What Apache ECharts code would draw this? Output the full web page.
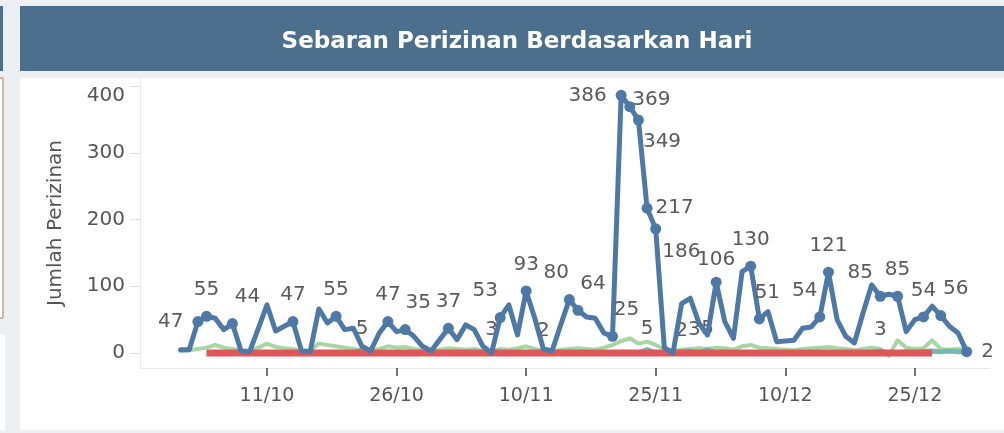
<!DOCTYPE html>
<html><head><meta charset="utf-8">
<script src="https://cdn.jsdelivr.net/npm/echarts@6/dist/echarts.min.js"></script>
<style>html,body{margin:0;padding:0;background:#edf0f3;overflow:hidden}#c{width:1004px;height:433px}</style>
</head><body><div id="c"></div>
<script>
// Daily series, 1 Oct 2022 .. 31 Dec 2022 (index = days since 1 Oct)
const tickLabels = ['11/10', '26/10', '10/11', '25/11', '10/12', '25/12'];
const tickDays = [10, 25, 40, 55, 70, 85];
const yTicks = [0, 100, 200, 300, 400];

const blueValues = [
  5, 5, 47, 55, 52, 35, 44, 3, 2, 37,
  72, 33, 40, 47, 3, 2, 66, 45, 55, 35,
  37, 10, 3, 30, 47, 32, 35, 25, 10, 3,
  20, 37, 20, 42, 35, 10, 0, 53, 72, 27,
  93, 52, 6, 3, 42, 80, 64, 54, 52, 30,
  25, 386, 369, 349, 217, 186, 8, 0, 74, 82,
  45, 27, 106, 47, 22, 122, 130, 51, 62, 17,
  18, 19, 37, 39, 54, 121, 50, 25, 15, 60,
  102, 85, 88, 85, 32, 50, 54, 70, 56, 40,
  30, 2
];
const blueLabeled = [2, 3, 6, 13, 18, 24, 26, 31, 37, 40, 45, 46, 50, 51, 52, 53, 54, 55, 62, 66, 67, 74, 75, 81, 83, 86, 88, 91];

const greenValues = [
  3, 4, 6, 8, 12, 8, 6, 4, 3, 8,
  14, 9, 7, 6, 3, 4, 14, 12, 10, 8,
  6, 4, 3, 6, 10, 8, 9, 6, 4, 3,
  5, 7, 6, 5, 6, 3, 2, 6, 5, 7,
  10, 6, 3, 2, 5, 6, 7, 6, 5, 8,
  12, 18, 22, 14, 17, 12, 6, 3, 5, 6,
  7, 6, 8, 7, 5, 10, 12, 8, 7, 6,
  5, 4, 6, 7, 8, 9, 7, 6, 4, 6,
  8, 6, -4, 19, 8, 6, 7, 19, 6, 5,
  6, 5
];

const redValues = [
  null, null, null, 0, 0, 0, 0, 0, 0, 0,
  0, 0, 0, 0, 0, 0, 0, 0, 0, 0,
  0, 0, 0, 0, 0, 0, 0, 0, 0, 0,
  0, 0, 0, 0, 0, 0, 0, 0, 0, 0,
  0, 0, 0, 0, 0, 0, 0, 0, 0, 0,
  0, 0, 0, 0, 0, 0, 0, 0, 0, 0,
  0, 0, 0, 0, 0, 0, 0, 0, 0, 0,
  0, 0, 0, 0, 0, 0, 0, 0, 0, 0,
  0, 0, 0, 0, 0, 0, 0, 0, null, null,
  null, null
];

const tealValues = [
  null, null, null, 0, 0, 0, 0, 0, 0, 0,
  0, 0, 0, 0, 0, 0, 0, 0, 0, 0,
  0, 5, 0, 0, 0, 0, 0, 0, 0, 0,
  0, 0, 0, 0, 0, 0, 3, 0, 0, 0,
  0, 0, 2, 0, 0, 0, 0, 0, 0, 0,
  0, 0, 0, 0, 5, 0, 0, 0, 2, 3,
  0, 5, 0, 0, 0, 0, 0, 0, 0, 0,
  0, 0, 0, 0, 0, 0, 0, 0, 0, 0,
  0, 3, 0, 0, 2, 1, 2, 3, 2, 3,
  2, 2
];
const tealLabeled = [21, 36, 42, 54, 58, 59, 61, 81];

// label placement styling (position, dx, dy)
const labelPlace = {
  2: ['left', 0, 0], 6: ['top', 15, 0], 26: ['top', 13, 0], 37: ['top', -15, 0],
  45: ['top', -13, 0], 46: ['top', 15, 0], 50: ['top', 14, 0], 51: ['left', 0, 0],
  52: ['right', -12, -7], 53: ['right', -10, 22], 54: ['right', -6, 0], 55: ['right', -8, 23],
  62: ['top', 0, 4], 67: ['top', 8, 0], 74: ['top', -15, 0], 81: ['top', -20, 3], 88: ['top', 15, 0], 91: ['right', 0, 0],
  't59': ['top', 4, 0]
};

const FONT = 'DejaVu Sans';
const LABEL_COLOR = '#5a5a5a';

function labelFor(key, show) {
  const p = labelPlace[key] || ['top', 0, 0];
  return {
    show: show, position: p[0], distance: p[0] === 'top' ? 11 : 9,
    fontSize: 20, fontFamily: FONT, color: LABEL_COLOR
  };
}
function layoutFor(prefix) {
  return function (params) {
    const p = labelPlace[prefix + params.dataIndex];
    return p ? { dx: p[1], dy: p[2] } : {};
  };
}

const blueData = blueValues.map((v, i) => {
  const lab = blueLabeled.indexOf(i) >= 0;
  return { value: [i, v], symbolSize: lab ? 11 : 0, label: labelFor(i, lab) };
});
const tealData = tealValues.map((v, i) => {
  const lab = tealLabeled.indexOf(i) >= 0;
  return { value: [i, v], label: labelFor('t' + i, lab) };
});
const greenData = greenValues.map((v, i) => [i, v]);
const redData = redValues.map((v, i) => [i, v]);

const chart = echarts.init(document.getElementById('c'), null, { renderer: 'canvas' });
chart.setOption({
  animation: false,
  backgroundColor: '#edf0f3',
  graphic: [
    { type: 'rect', shape: { x: 20, y: 78, width: 984, height: 352 }, style: { fill: '#ffffff' }, z: -10 },
    { type: 'rect', shape: { x: 20, y: 6, width: 984, height: 65 }, style: { fill: '#4b6f8c' }, z: -10 },
    { type: 'rect', shape: { x: 0, y: 6, width: 3, height: 65 }, style: { fill: '#4b6f8c' }, z: -10 },
    { type: 'rect', shape: { x: -1, y: 78, width: 4, height: 240 }, style: { fill: '#ffffff', stroke: '#a57d62', lineWidth: 1 }, z: -10 },
    { type: 'rect', shape: { x: 0, y: 334, width: 5, height: 96 }, style: { fill: '#ffffff' }, z: -10 },
    { type: 'text', x: 517, y: 42, style: { text: 'Sebaran Perizinan Berdasarkan Hari', fill: '#ffffff', font: 'bold 23px "DejaVu Sans"', textAlign: 'center', textVerticalAlign: 'middle' }, z: 10 }
  ],
  grid: { left: 140, right: 14, top: 78, bottom: 65 },
  xAxis: {
    type: 'value', min: -4.7, max: 93.7,
    splitLine: { show: false },
    axisLine: { show: true, onZero: false, lineStyle: { color: '#e8e8e8', width: 1 } },
    axisTick: { show: true, customValues: tickDays, length: 8, lineStyle: { color: '#444', width: 1.5 } },
    axisLabel: {
      customValues: tickDays, margin: 19, fontSize: 19, fontFamily: FONT, color: '#555',
      formatter: v => tickLabels[tickDays.indexOf(v)] || ''
    }
  },
  yAxis: {
    type: 'value', min: -22.5, max: 412,
    name: 'Jumlah Perizinan', nameLocation: 'middle', nameGap: 74,
    nameTextStyle: { fontSize: 20, fontFamily: FONT, color: '#555' },
    splitLine: { show: false },
    axisLine: { show: true, onZero: false, lineStyle: { color: '#e8e8e8', width: 1 } },
    axisTick: { show: true, customValues: yTicks, length: 10, lineStyle: { color: '#e0e0e0' } },
    axisLabel: {
      customValues: yTicks, margin: 15, fontSize: 20, fontFamily: FONT, color: '#555',
      formatter: v => v === 400 ? '{top|400}' : String(v),
      rich: { top: { fontSize: 20, fontFamily: FONT, color: '#555', padding: [20, 0, 0, 0] } }
    }
  },
  series: [
    { name: 'green', type: 'line', data: greenData, symbol: 'none', z: 1,
      lineStyle: { width: 4, color: 'rgba(130,196,124,0.7)', join: 'round', cap: 'round' }, silent: true },
    { name: 'teal', type: 'line', data: tealData, symbol: 'circle', symbolSize: 0.1, showSymbol: true, z: 2,
      itemStyle: { color: '#76b7b2' }, lineStyle: { width: 5, color: '#76b7b2' }, silent: true,
      labelLayout: layoutFor('t') },
    { name: 'red', type: 'line', data: redData, symbol: 'none', z: 3,
      lineStyle: { width: 7, color: '#e15759' }, silent: true },
    { name: 'blue', type: 'line', data: blueData, symbol: 'circle', showSymbol: true, z: 4,
      itemStyle: { color: '#4e79a7' }, lineStyle: { width: 5, color: '#4e79a7', join: 'round', cap: 'round' }, silent: true,
      labelLayout: layoutFor('') }
  ]
});
</script></body></html>
